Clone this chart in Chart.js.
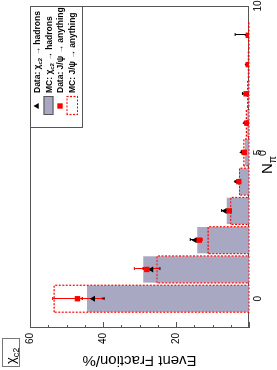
<!DOCTYPE html>
<html lang="en">
<head>
  <meta charset="UTF-8">
  <title>chi_c2 pi0 multiplicity</title>
  <script src="https://cdn.jsdelivr.net/npm/chart.js@4.4.1/dist/chart.umd.min.js"></script>
  <style>
    html, body { margin: 0; padding: 0; background: #fff; overflow: hidden; }
    /* the plot is drawn upright and then turned a quarter turn to the left */
    #wrap { position: absolute; left: 0; top: 0; width: 370px; height: 277px;
            transform-origin: 0 0; transform: translate(0px, 370px) rotate(-90deg); }
  </style>
</head>
<body>
<div id="wrap"><canvas id="chart" width="370" height="277"></canvas></div>
<script>
  // number of pi0 per event
  const N_PI0 = [0, 1, 2, 3, 4, 5, 6, 7, 8, 9];

  // event fractions in %
  const MC_CHI = [44.4, 29.0, 14.2, 6.1, 2.7, 1.1, 0.5, 0.25, 0.1, 0.05];
  const MC_JPSI = [53.4, 25.2, 11.2, 5.0, 2.6, 1.4, 0.7, 0.35, 0.2, 0.1];
  const DATA_CHI = [42.7, 26.7, 14.8, 6.6, 3.2, 1.7, 0.9, 0.8, 0.3, 0.3];
  const DATA_CHI_ERR = [3.0, 2.3, 1.3, 0.9, 0.6, 0.4, 0.4, 1.0, 0.5, 3.5];
  const DATA_JPSI = [47.0, 28.0, 13.6, 5.4, 2.8, 1.3, 0.6, 0.8, 0.2, 0.2];
  const DATA_JPSI_ERR = [6.8, 3.4, 0.8, 0.5, 0.4, 0.3, 0.2, 0.3, 0.2, 0.2];

  const N_TICKS = [0, 5, 10];
  const FRAC_TICKS = [20, 40, 60];

  const LEGEND_LABELS = ['Data: χ_{c2} → hadrons', 'MC: χ_{c2} → hadrons',
                         'Data: J/ψ → anything', 'MC: J/ψ → anything'];
  const X_TITLE = 'N_{π}^{0}';
  const Y_TITLE = 'Event Fraction/%';
  const TAG = 'χ_{c2}';

  const FONT = '"Liberation Sans", Arial, sans-serif';
  const GREY = '#a9a8c2';
  const RED = '#ff0000';

  Chart.defaults.font.family = FONT;

  const pts = arr => arr.map((v, i) => ({x: N_PI0[i], y: v}));

  // text with _{sub} and ^{sup} pieces
  function drawRich(ctx, str, x, y, size, weight) {
    const re = /([_^])\{([^}]*)\}|([^_^]+)/g;
    let m;
    while ((m = re.exec(str))) {
      let txt = m[3], s = size, dy = 0;
      if (!txt) {
        txt = m[2];
        s = size * 0.7;
        dy = m[1] === '_' ? size * 0.28 : -size * 0.42;
      }
      ctx.font = weight + ' ' + s + 'px ' + FONT;
      ctx.fillText(txt, x, y + dy);
      x += ctx.measureText(txt).width;
    }
  }

  function dashedRect(ctx, x1, y1, x2, y2) {
    ctx.save();
    ctx.strokeStyle = RED;
    ctx.lineWidth = 1.2;
    ctx.setLineDash([2, 1.5]);
    ctx.strokeRect(x1, y1, x2 - x1, y2 - y1);
    ctx.restore();
  }

  const extras = {
    id: 'extras',
    beforeDatasetsDraw(chart) {
      const {ctx, chartArea: a, scales: {y}} = chart;
      ctx.save();
      ctx.strokeStyle = '#555';
      ctx.lineWidth = 1;
      ctx.strokeRect(a.left + 0.5, a.top + 0.5, a.right - a.left - 1, a.bottom - a.top - 1);
      // inward ticks on the fraction axis
      for (let v = 0; v <= 60; v += 5) {
        const py = Math.round(y.getPixelForValue(v)) + 0.5;
        const len = v % 20 === 0 ? 6 : 3;
        ctx.beginPath();
        ctx.moveTo(a.left, py);
        ctx.lineTo(a.left + len, py);
        ctx.stroke();
      }
      ctx.restore();
    },
    afterDatasetDraw(chart, args) {
      const ds = chart.data.datasets[args.index];
      if (!ds.dashed) return;
      const {ctx, chartArea: a, scales: {x, y}} = chart;
      args.meta.data.forEach(el => {
        const p = el.getProps(['x', 'y', 'base', 'width'], true);
        dashedRect(ctx, p.x - p.width / 2, p.y, p.x + p.width / 2, p.base);
      });
      // error bars go under the markers
      ctx.save();
      ctx.beginPath();
      ctx.rect(a.left, a.top, a.right - a.left, a.bottom - a.top);
      ctx.clip();
      [[DATA_CHI, DATA_CHI_ERR, '#000'], [DATA_JPSI, DATA_JPSI_ERR, RED]].forEach(([vals, errs, col]) => {
        ctx.strokeStyle = col;
        ctx.lineWidth = 1;
        vals.forEach((v, i) => {
          const px = Math.round(x.getPixelForValue(N_PI0[i])) + 0.5;
          const lo = y.getPixelForValue(v - errs[i]);
          const hi = y.getPixelForValue(v + errs[i]);
          ctx.beginPath();
          ctx.moveTo(px, lo); ctx.lineTo(px, hi);
          ctx.moveTo(px - 1.5, hi); ctx.lineTo(px + 1.5, hi);
          ctx.moveTo(px - 1.5, lo); ctx.lineTo(px + 1.5, lo);
          ctx.stroke();
        });
      });
      ctx.restore();
    },
    afterDraw(chart) {
      const {ctx, chartArea: a} = chart;
      ctx.save();
      ctx.textBaseline = 'alphabetic';

      // legend in the upper right corner
      const lx1 = 242, lx2 = a.right, ly1 = a.top, ly2 = 82;
      ctx.fillStyle = '#fff';
      ctx.fillRect(lx1, ly1, lx2 - lx1, ly2 - ly1);
      ctx.strokeStyle = '#555';
      ctx.lineWidth = 1;
      ctx.strokeRect(lx1 + 0.5, ly1 + 0.5, lx2 - lx1 - 1, ly2 - ly1);
      const rows = [37, 48.5, 60, 72];
      const mx = 264;
      ctx.fillStyle = '#000';
      Chart.helpers.drawPoint(ctx, {pointStyle: 'triangle', radius: 3.5, rotation: 0, borderWidth: 0}, mx, rows[0]);
      ctx.fillStyle = GREY;
      ctx.fillRect(255, rows[1] - 5, 19, 10);
      ctx.strokeStyle = '#555';
      ctx.strokeRect(255.5, rows[1] - 4.5, 18, 9);
      ctx.fillStyle = RED;
      Chart.helpers.drawPoint(ctx, {pointStyle: 'rect', radius: 3.8, rotation: 0, borderWidth: 0}, mx, rows[2]);
      dashedRect(ctx, 255.5, rows[3] - 5, 273.5, rows[3] + 5.5);
      ctx.fillStyle = '#000';
      LEGEND_LABELS.forEach((t, i) => drawRich(ctx, t, 277, rows[i] + 3, 8.5, 'bold'));

      // x axis title
      drawRich(ctx, X_TITLE, 196, 272, 15, 'normal');

      // channel tag
      ctx.strokeStyle = '#777';
      ctx.strokeRect(3.5, 2.5, 28, 17);
      drawRich(ctx, TAG, 6, 15, 13, 'normal');
      ctx.restore();
    }
  };

  new Chart(document.getElementById('chart'), {
    type: 'bar',
    data: {
      datasets: [
        {type: 'scatter', label: LEGEND_LABELS[2], data: pts(DATA_JPSI),
         pointStyle: 'rect', pointRadius: 3.8, backgroundColor: RED, borderWidth: 0, order: 0},
        {type: 'scatter', label: LEGEND_LABELS[0], data: pts(DATA_CHI),
         pointStyle: 'triangle', pointRadius: 3.5, backgroundColor: '#000', borderWidth: 0, order: 1},
        {label: LEGEND_LABELS[3], data: pts(MC_JPSI), dashed: true,
         backgroundColor: 'rgba(0,0,0,0)', borderWidth: 0, grouped: false,
         barPercentage: 0.92, categoryPercentage: 1, order: 2},
        {label: LEGEND_LABELS[1], data: pts(MC_CHI),
         backgroundColor: GREY, borderWidth: 0, grouped: false,
         barPercentage: 0.9, categoryPercentage: 1, order: 3}
      ]
    },
    options: {
      responsive: false,
      animation: false,
      devicePixelRatio: 1,
      layout: {padding: {top: 30, right: 6, left: 0, bottom: 0}},
      plugins: {legend: {display: false}, tooltip: {enabled: false}},
      scales: {
        x: {
          type: 'linear', min: -1, max: 10, offset: false,
          grid: {display: false, drawTicks: false}, border: {display: false},
          ticks: {color: '#000', font: {size: 10}, padding: 3, maxRotation: 0},
          afterBuildTicks: s => { s.ticks = N_TICKS.map(v => ({value: v})); },
          afterFit: s => { s.height = 28; s.paddingLeft = 0; s.paddingRight = 0; }
        },
        y: {
          min: 0, max: 60,
          grid: {display: false, drawTicks: false}, border: {display: false},
          ticks: {color: '#000', font: {size: 10}, padding: 5},
          afterBuildTicks: s => { s.ticks = FRAC_TICKS.map(v => ({value: v})); },
          title: {display: true, text: Y_TITLE, color: '#000', font: {size: 15}, padding: {top: 1, bottom: 0}},
          afterFit: s => { s.width = 42; s.paddingTop = 0; s.paddingBottom = 0; }
        }
      }
    },
    plugins: [extras]
  });
</script>
</body>
</html>
